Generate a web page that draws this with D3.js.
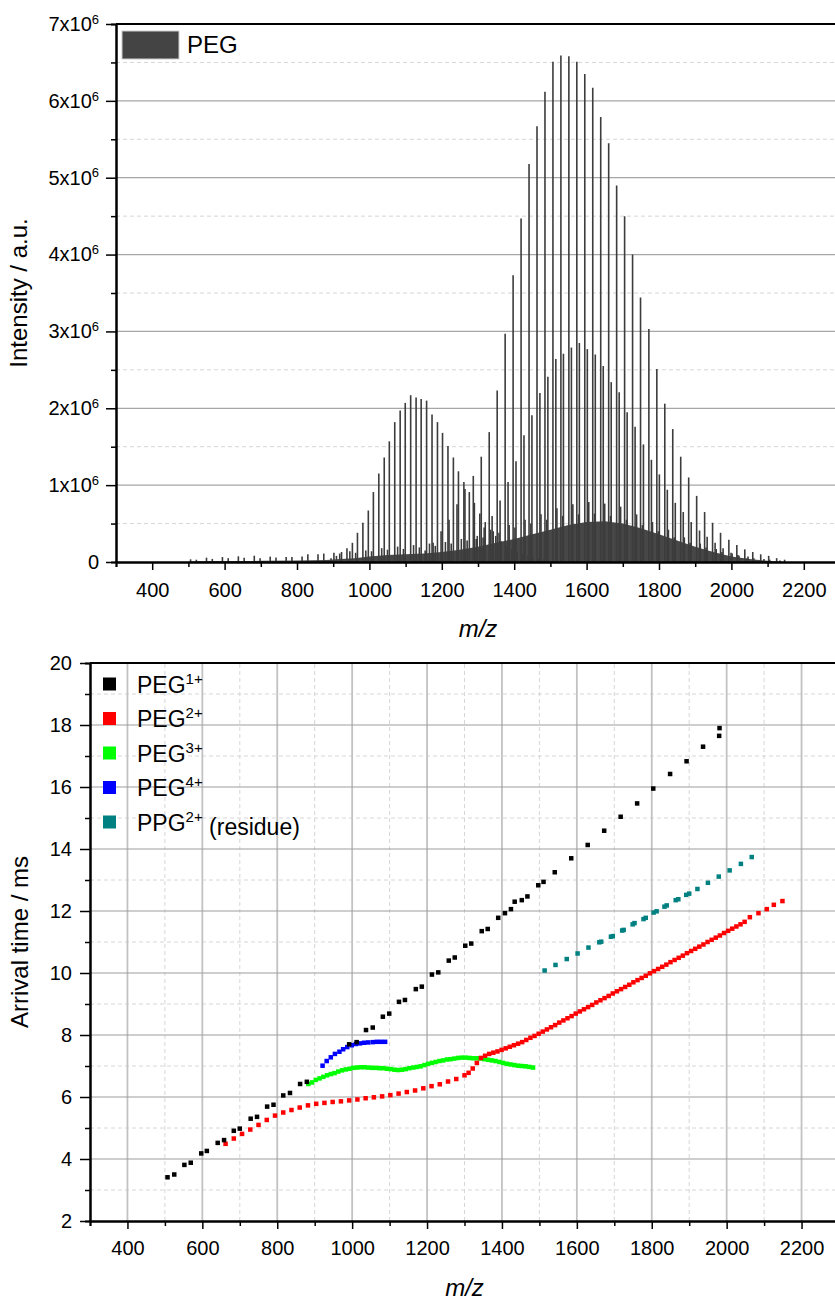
<!DOCTYPE html>
<html>
  <head>
    <meta charset="utf-8">
    <title>PEG spectrum and arrival times</title>
    <script src="https://cdn.jsdelivr.net/npm/d3@7"></script>
    <style>
      body {
        margin: 0;
        background: #fff;
      }
      svg {
        display: block;
        font-family: "Liberation Sans", Arial, sans-serif;
      }
    </style>
  </head>
  <body>
    <svg width="835" height="1301"></svg>
    <script>
      // ---- spectrum data (m/z, intensity in 10^6) ----
      // PEG 1+ rows (two adducts, 44 Da apart)
      var p1aMz = [506, 550, 594, 638, 682, 726, 770, 814, 858, 902, 946, 990, 1034, 1078, 1122, 1166, 1210, 1254, 1298, 1342, 1386, 1430, 1474, 1518, 1562, 1606, 1650, 1694, 1738, 1782, 1826, 1870, 1914, 1958, 2002, 2046, 2090, 2134];
      var p1aInt = [0.035, 0.056, 0.065, 0.074, 0.082, 0.07, 0.065, 0.07, 0.1, 0.12, 0.14, 0.15, 0.18, 0.2, 0.22, 0.24, 0.26, 0.3, 0.34, 0.4, 0.48, 0.55, 0.62, 0.7, 0.75, 0.78, 0.76, 0.72, 0.62, 0.52, 0.42, 0.32, 0.24, 0.17, 0.11, 0.07, 0.04, 0.02];
      var p1bMz = [522, 566, 610, 654, 698, 742, 786, 830, 874, 918, 962, 1006, 1050, 1094, 1138, 1182, 1226, 1270, 1314, 1358, 1402, 1446, 1490, 1534, 1578, 1622, 1666, 1710, 1754, 1798, 1842, 1886, 1930, 1974, 2018, 2062, 2106];
      var p1bInt = [0.03, 0.04, 0.05, 0.056, 0.05, 0.06, 0.065, 0.1, 0.11, 0.11, 0.12, 0.14, 0.16, 0.17, 0.19, 0.21, 0.24, 0.28, 0.32, 0.38, 0.45, 0.5, 0.55, 0.6, 0.62, 0.63, 0.6, 0.55, 0.48, 0.4, 0.32, 0.25, 0.19, 0.13, 0.09, 0.05, 0.03];
      // PEG 3+ envelope round 1100
      var p3Mz = [894, 909, 923, 938, 953, 967, 982, 997, 1011, 1026, 1041, 1055, 1070, 1085, 1099, 1114, 1129, 1143, 1158, 1173, 1188, 1202, 1217, 1232, 1246, 1261, 1276, 1290, 1305, 1320, 1335, 1349, 1364, 1379, 1393, 1408, 1423, 1438, 1452, 1467, 1482];
      var p3Int = [0.05, 0.08, 0.13, 0.18, 0.25, 0.38, 0.51, 0.67, 0.91, 1.15, 1.36, 1.57, 1.82, 1.97, 2.07, 2.17, 2.14, 2.12, 2.10, 1.92, 1.82, 1.68, 1.51, 1.36, 1.18, 1.04, 0.91, 0.77, 0.63, 0.52, 0.42, 0.34, 0.27, 0.21, 0.17, 0.13, 0.1, 0.08, 0.06, 0.05, 0.04];
      // PEG 2+ main row
      var p2Mz = [1154, 1176, 1198, 1220, 1242, 1264, 1287, 1309, 1331, 1353, 1375, 1397, 1419, 1441, 1463, 1485, 1507, 1529, 1551, 1573, 1595, 1617, 1639, 1661, 1683, 1705, 1727, 1749, 1772, 1794, 1816, 1838, 1860, 1882, 1904, 1926, 1948, 1970, 1993, 2015, 2037, 2059, 2081, 2103, 2125, 2147];
      var p2Int = [0.15, 0.25, 0.4, 0.55, 0.75, 0.95, 1.12, 1.37, 1.69, 2.23, 2.97, 3.73, 4.47, 5.18, 5.67, 6.12, 6.51, 6.59, 6.58, 6.51, 6.35, 6.17, 5.79, 5.45, 4.90, 4.50, 4.00, 3.44, 3.03, 2.51, 2.06, 1.73, 1.37, 1.10, 0.86, 0.65, 0.51, 0.38, 0.29, 0.22, 0.165, 0.13, 0.10, 0.08, 0.05, 0.03];
      // PEG 2+ second row
      var p2bMz = [1295, 1317, 1339, 1361, 1383, 1405, 1427, 1449, 1471, 1493, 1515, 1536, 1558, 1580, 1602, 1624, 1646, 1668, 1690, 1712, 1734, 1757, 1779, 1801, 1823, 1845, 1867, 1889, 1912, 1933, 1955, 1977, 1999, 2021, 2043];
      var p2bInt = [0.3, 0.45, 0.6, 0.8, 1.04, 1.31, 1.65, 1.91, 2.20, 2.41, 2.64, 2.71, 2.79, 2.85, 2.77, 2.70, 2.55, 2.34, 2.21, 1.95, 1.76, 1.53, 1.33, 1.14, 0.94, 0.77, 0.65, 0.52, 0.41, 0.33, 0.25, 0.18, 0.12, 0.08, 0.05];
      // dense background of small peaks
      var envMz = [495, 520, 600, 700, 800, 880, 920, 960, 1000, 1050, 1100, 1150, 1200, 1250, 1300, 1350, 1400, 1450, 1500, 1550, 1600, 1650, 1700, 1750, 1800, 1850, 1900, 1950, 2000, 2050, 2100, 2150];
      var envInt = [0, 0.01, 0.012, 0.015, 0.018, 0.025, 0.04, 0.05, 0.07, 0.09, 0.1, 0.11, 0.13, 0.16, 0.2, 0.25, 0.3, 0.36, 0.42, 0.48, 0.52, 0.53, 0.5, 0.44, 0.36, 0.28, 0.2, 0.13, 0.07, 0.04, 0.015, 0];

      // ---- arrival time data (m/z, ms) ----
      var peg1Mz = [507, 525, 552, 569, 597, 612, 641, 658, 684, 700, 729, 746, 773, 790, 816, 834, 861, 879, 992, 1012, 1037, 1055, 1082, 1099, 1125, 1141, 1170, 1186, 1213, 1230, 1258, 1274, 1302, 1318, 1346, 1362, 1390, 1408, 1424, 1434, 1453, 1468, 1497, 1511, 1541, 1585, 1629, 1673, 1717, 1761, 1804, 1849, 1893, 1937, 1980, 1981];
      var peg1T = [3.41, 3.50, 3.81, 3.88, 4.18, 4.26, 4.52, 4.61, 4.91, 4.98, 5.30, 5.36, 5.69, 5.75, 6.05, 6.13, 6.42, 6.49, 7.70, 7.77, 8.16, 8.24, 8.59, 8.69, 9.07, 9.13, 9.48, 9.56, 9.95, 10.02, 10.40, 10.50, 10.88, 10.95, 11.35, 11.42, 11.78, 11.93, 12.06, 12.30, 12.35, 12.47, 12.83, 12.94, 13.25, 13.70, 14.13, 14.59, 15.04, 15.47, 15.95, 16.42, 16.83, 17.30, 17.65, 17.90];
      var peg2Mz = [662, 684, 706, 728, 750, 772, 794, 816, 838, 860, 882, 904, 926, 948, 970, 992, 1014, 1036, 1058, 1080, 1102, 1124, 1146, 1168, 1190, 1212, 1234, 1256, 1278, 1300,
        1311, 1322, 1333, 1344, 1355, 1366, 1377, 1388, 1399, 1410, 1421, 1432, 1443, 1454, 1465, 1476, 1487, 1498, 1509, 1520,
        1531, 1542, 1553, 1564, 1575, 1586, 1597, 1608, 1619, 1630, 1641, 1652, 1663, 1674, 1685, 1696, 1707, 1718, 1729, 1740,
        1751, 1762, 1773, 1784, 1795, 1806, 1817, 1828, 1839, 1850, 1861, 1872, 1883, 1894, 1905, 1916, 1927, 1938, 1949, 1960,
        1971, 1982, 1993, 2004, 2015, 2026, 2037, 2048, 2062, 2085, 2107, 2126, 2149];
      var peg2T = [4.49, 4.66, 4.81, 4.95, 5.10, 5.26, 5.40, 5.50, 5.58, 5.66, 5.73, 5.78, 5.81, 5.84, 5.86, 5.89, 5.92, 5.96, 5.99, 6.02, 6.06, 6.11, 6.16, 6.21, 6.28, 6.35, 6.41, 6.50, 6.58, 6.70,
        6.78, 6.92, 7.10, 7.26, 7.33, 7.39, 7.43, 7.47, 7.52, 7.57, 7.62, 7.67, 7.72, 7.77, 7.84, 7.91, 7.97, 8.04, 8.11, 8.18,
        8.25, 8.32, 8.40, 8.47, 8.54, 8.61, 8.69, 8.76, 8.83, 8.90, 8.97, 9.05, 9.12, 9.19, 9.26, 9.34, 9.41, 9.48, 9.55, 9.62,
        9.70, 9.77, 9.84, 9.91, 9.99, 10.06, 10.13, 10.20, 10.27, 10.35, 10.42, 10.49, 10.56, 10.64, 10.71, 10.78, 10.85, 10.92, 11.00, 11.07,
        11.14, 11.21, 11.29, 11.36, 11.43, 11.50, 11.57, 11.65, 11.80, 11.93, 12.06, 12.20, 12.32];
      var peg3Mz = [883, 893, 903, 913, 923, 933, 943, 953, 963, 973, 983, 993, 1003, 1013, 1023, 1033, 1043, 1053, 1063, 1073, 1083, 1093, 1103, 1113, 1123, 1133, 1143, 1153, 1163, 1173, 1183, 1193, 1203, 1213, 1223, 1233, 1243, 1253, 1263, 1273, 1283, 1293, 1303, 1313, 1323, 1333, 1343, 1353, 1363, 1373, 1383, 1393, 1403, 1413, 1423, 1433, 1443, 1453, 1463, 1473, 1483];
      var peg3T = [6.42, 6.47, 6.55, 6.60, 6.65, 6.70, 6.74, 6.77, 6.82, 6.86, 6.89, 6.91, 6.94, 6.95, 6.96, 6.96, 6.95, 6.94, 6.94, 6.93, 6.93, 6.91, 6.90, 6.88, 6.87, 6.88, 6.90, 6.93, 6.95, 6.97, 6.99, 7.03, 7.07, 7.10, 7.13, 7.16, 7.18, 7.21, 7.22, 7.24, 7.26, 7.27, 7.27, 7.26, 7.25, 7.25, 7.24, 7.22, 7.20, 7.18, 7.16, 7.13, 7.10, 7.07, 7.05, 7.03, 7.01, 7.00, 6.99, 6.97, 6.95];
      var peg4Mz = [921, 932, 943, 954, 966, 976, 987, 999, 1010, 1021, 1032, 1043, 1055, 1066, 1077, 1088];
      var peg4T = [7.01, 7.16, 7.28, 7.39, 7.46, 7.54, 7.61, 7.67, 7.71, 7.73, 7.75, 7.76, 7.77, 7.78, 7.78, 7.78];
      var ppgMz = [1514, 1543, 1573, 1602, 1631, 1660, 1665, 1691, 1696, 1721, 1725, 1749, 1754, 1778, 1784, 1805, 1813, 1834, 1840, 1864, 1871, 1892, 1900, 1922, 1950, 1979, 2008, 2038, 2067];
      var ppgT = [10.08, 10.26, 10.45, 10.63, 10.82, 10.99, 11.01, 11.17, 11.19, 11.37, 11.39, 11.57, 11.61, 11.74, 11.78, 11.95, 11.99, 12.14, 12.18, 12.35, 12.38, 12.52, 12.56, 12.71, 12.91, 13.11, 13.31, 13.52, 13.74];

      // tick values
      var mzMajor = [400, 600, 800, 1000, 1200, 1400, 1600, 1800, 2000, 2200];
      var mzMinor = [300, 500, 700, 900, 1100, 1300, 1500, 1700, 1900, 2100, 2300];
      var intMajor = [0, 1, 2, 3, 4, 5, 6, 7];
      var intMinor = [0.5, 1.5, 2.5, 3.5, 4.5, 5.5, 6.5];
      var tMajor = [2, 4, 6, 8, 10, 12, 14, 16, 18, 20];
      var tMinor = [3, 5, 7, 9, 11, 13, 15, 17, 19];

      var svg = d3.select("svg");
      var W = 835;

      function pairs(a, b) {
        return a.map(function (d, i) { return [d, b[i]]; });
      }

      // style an axis group: thick domain, black ticks
      function styleAxis(g) {
        g.select(".domain").attr("stroke", "#000").attr("stroke-width", 2);
        g.selectAll(".tick line").attr("stroke", "#000").attr("stroke-width", 1.5);
        g.selectAll(".tick text").attr("fill", "#000").attr("font-size", "20px");
      }

      // ================= top: spectrum =================
      var x1 = d3.scaleLinear().domain([300, 2300]).range([116, 840]);
      var y1 = d3.scaleLinear().domain([0, 7]).range([562, 24]);
      var gTop = svg.append("g");

      // horizontal grid
      gTop.selectAll(".gmin").data(intMinor).enter().append("line")
        .attr("x1", x1(300)).attr("x2", W)
        .attr("y1", function (d) { return y1(d); }).attr("y2", function (d) { return y1(d); })
        .attr("stroke", "#d6d6d6").attr("stroke-dasharray", "4,3");
      gTop.selectAll(".gmaj").data(intMajor.slice(1, 7)).enter().append("line")
        .attr("x1", x1(300)).attr("x2", W)
        .attr("y1", function (d) { return y1(d); }).attr("y2", function (d) { return y1(d); })
        .attr("stroke", "#a6a6a6").attr("stroke-width", 1.3);

      // background of unresolved peaks
      gTop.append("path")
        .datum(pairs(envMz, envInt))
        .attr("fill", "#474747")
        .attr("d", d3.area()
          .x(function (d) { return x1(d[0]); })
          .y0(y1(0))
          .y1(function (d) { return y1(d[1]); }));

      // peak sticks
      var peaks = [].concat(pairs(p1aMz, p1aInt), pairs(p1bMz, p1bInt), pairs(p3Mz, p3Int), pairs(p2bMz, p2bInt), pairs(p2Mz, p2Int));
      gTop.selectAll(".peak").data(peaks).enter().append("line")
        .attr("x1", function (d) { return x1(d[0]); })
        .attr("x2", function (d) { return x1(d[0]); })
        .attr("y1", y1(0))
        .attr("y2", function (d) { return y1(d[1]); })
        .attr("stroke", "#3c3c3c")
        .attr("stroke-width", 1.6);

      // axes
      var gx1 = gTop.append("g").attr("transform", "translate(0," + y1(0) + ")")
        .call(d3.axisBottom(x1).tickValues(mzMajor).tickFormat(d3.format("d")).tickSize(8).tickSizeOuter(0));
      styleAxis(gx1);
      gx1.selectAll(".tick text").attr("y", 35).attr("dy", null);
      gTop.append("g").attr("transform", "translate(0," + y1(0) + ")")
        .call(d3.axisBottom(x1).tickValues(mzMinor).tickSize(5).tickFormat(""))
        .call(styleAxis);

      var gy1 = gTop.append("g").attr("transform", "translate(" + x1(300) + ",0)")
        .call(d3.axisLeft(y1).tickValues(intMajor).tickSize(10).tickPadding(7).tickSizeOuter(0));
      styleAxis(gy1);
      gy1.selectAll(".tick text").each(function (d) {
        var t = d3.select(this).text(null);
        if (d === 0) {
          t.text("0");
        } else {
          t.append("tspan").text(d + "x10");
          t.append("tspan").attr("dy", "-0.55em").attr("font-size", "13px").text("6");
        }
      });
      gTop.append("g").attr("transform", "translate(" + x1(300) + ",0)")
        .call(d3.axisLeft(y1).tickValues(intMinor).tickSize(5).tickFormat(""))
        .call(styleAxis);

      // top frame line
      gTop.append("line").attr("x1", x1(300)).attr("x2", W)
        .attr("y1", y1(7)).attr("y2", y1(7))
        .attr("stroke", "#000").attr("stroke-width", 2);

      // legend
      gTop.append("rect").attr("x", 122).attr("y", 31).attr("width", 57).attr("height", 28)
        .attr("fill", "#444").attr("stroke", "#ccc").attr("stroke-width", 1);
      gTop.append("text").attr("x", 187).attr("y", 53).attr("font-size", "24px").text("PEG");

      // axis titles
      gTop.append("text")
        .attr("transform", "translate(27," + (y1(3.5)) + ") rotate(-90)")
        .attr("text-anchor", "middle").attr("font-size", "24px")
        .text("Intensity / a.u.");
      gTop.append("text").attr("x", (x1(300) + x1(2300)) / 2).attr("y", 637)
        .attr("text-anchor", "middle").attr("font-size", "24px").attr("font-style", "italic")
        .text("m/z");

      // ================= bottom: arrival time =================
      var x2 = d3.scaleLinear().domain([300, 2300]).range([90, 839]);
      var y2 = d3.scaleLinear().domain([2, 20]).range([1221, 663]);
      var gBot = svg.append("g");

      // grid
      gBot.selectAll(".vmin").data(mzMinor.slice(1)).enter().append("line")
        .attr("x1", function (d) { return x2(d); }).attr("x2", function (d) { return x2(d); })
        .attr("y1", y2(2)).attr("y2", y2(20))
        .attr("stroke", "#d6d6d6").attr("stroke-dasharray", "4,3");
      gBot.selectAll(".hmin").data(tMinor).enter().append("line")
        .attr("x1", x2(300)).attr("x2", W)
        .attr("y1", function (d) { return y2(d); }).attr("y2", function (d) { return y2(d); })
        .attr("stroke", "#d6d6d6").attr("stroke-dasharray", "4,3");
      gBot.selectAll(".vmaj").data(mzMajor).enter().append("line")
        .attr("x1", function (d) { return x2(d); }).attr("x2", function (d) { return x2(d); })
        .attr("y1", y2(2)).attr("y2", y2(20))
        .attr("stroke", "#c2c2c2").attr("stroke-width", 1.8);
      gBot.selectAll(".hmaj").data(tMajor.slice(1, 9)).enter().append("line")
        .attr("x1", x2(300)).attr("x2", W)
        .attr("y1", function (d) { return y2(d); }).attr("y2", function (d) { return y2(d); })
        .attr("stroke", "#9e9e9e").attr("stroke-width", 1.2);

      // scatter series, drawn as small squares
      var series = [
        { mz: peg3Mz, t: peg3T, color: "#00ff00" },
        { mz: peg4Mz, t: peg4T, color: "#0000ff" },
        { mz: peg2Mz, t: peg2T, color: "#ff0000" },
        { mz: ppgMz, t: ppgT, color: "#008080" },
        { mz: peg1Mz, t: peg1T, color: "#000000" }
      ];
      var sq = 4.5;
      series.forEach(function (s) {
        gBot.append("g").selectAll("rect").data(pairs(s.mz, s.t)).enter().append("rect")
          .attr("x", function (d) { return x2(d[0]) - sq / 2; })
          .attr("y", function (d) { return y2(d[1]) - sq / 2; })
          .attr("width", sq).attr("height", sq)
          .attr("fill", s.color);
      });

      // axes
      var gx2 = gBot.append("g").attr("transform", "translate(0," + y2(2) + ")")
        .call(d3.axisBottom(x2).tickValues(mzMajor).tickFormat(d3.format("d")).tickSize(8).tickSizeOuter(0));
      styleAxis(gx2);
      gx2.selectAll(".tick text").attr("y", 34).attr("dy", null);
      gBot.append("g").attr("transform", "translate(0," + y2(2) + ")")
        .call(d3.axisBottom(x2).tickValues(mzMinor).tickSize(5).tickFormat(""))
        .call(styleAxis);
      gBot.append("g").attr("transform", "translate(" + x2(300) + ",0)")
        .call(d3.axisLeft(y2).tickValues(tMajor).tickSize(10).tickPadding(8).tickSizeOuter(0))
        .call(styleAxis);
      gBot.append("g").attr("transform", "translate(" + x2(300) + ",0)")
        .call(d3.axisLeft(y2).tickValues(tMinor).tickSize(5).tickFormat(""))
        .call(styleAxis);
      gBot.append("line").attr("x1", x2(300)).attr("x2", W)
        .attr("y1", y2(20)).attr("y2", y2(20))
        .attr("stroke", "#000").attr("stroke-width", 2);

      // legend
      var legendItems = [
        { name: "PEG", sup: "1+", rest: "", color: "#000000" },
        { name: "PEG", sup: "2+", rest: "", color: "#ff0000" },
        { name: "PEG", sup: "3+", rest: "", color: "#00ff00" },
        { name: "PEG", sup: "4+", rest: "", color: "#0000ff" },
        { name: "PPG", sup: "2+", rest: " (residue)", color: "#008080" }
      ];
      var leg = gBot.selectAll(".leg").data(legendItems).enter().append("g")
        .attr("transform", function (d, i) { return "translate(103," + (684 + i * 34.5) + ")"; });
      leg.append("rect").attr("x", 0).attr("y", -6.5).attr("width", 13).attr("height", 13)
        .attr("fill", function (d) { return d.color; });
      var lt = leg.append("text").attr("x", 34).attr("y", 8.5).attr("font-size", "23px");
      lt.append("tspan").text(function (d) { return d.name; });
      lt.append("tspan").attr("dy", "-0.6em").attr("font-size", "15px").text(function (d) { return d.sup; });
      lt.append("tspan").attr("dy", "0.6em").text(function (d) { return d.rest; });

      // axis titles
      gBot.append("text")
        .attr("transform", "translate(28," + y2(11) + ") rotate(-90)")
        .attr("text-anchor", "middle").attr("font-size", "24px")
        .text("Arrival time / ms");
      gBot.append("text").attr("x", (x2(300) + x2(2300)) / 2).attr("y", 1296)
        .attr("text-anchor", "middle").attr("font-size", "24px").attr("font-style", "italic")
        .text("m/z");
    </script>
  </body>
</html>
